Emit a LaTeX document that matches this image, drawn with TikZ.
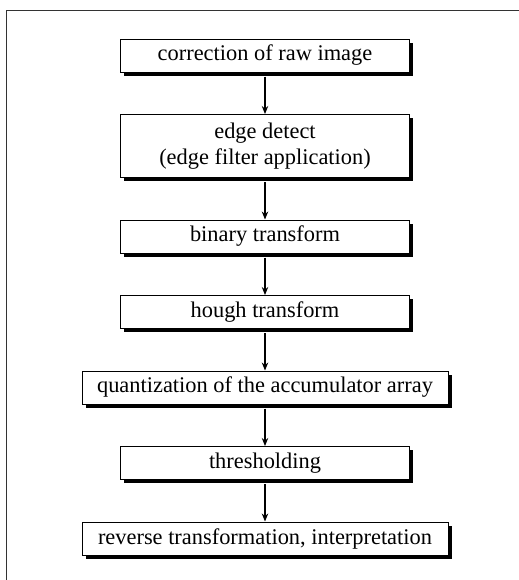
\documentclass[tikz,border=0pt]{standalone}
\usepackage{fontspec}
\setmainfont{Liberation Serif}
\usepackage{tikz}
\usetikzlibrary{arrows.meta,positioning,shadows}

\begin{document}
\begin{tikzpicture}[
  x=0.5pt, y=-0.5pt,
  node distance=20.75pt,
  stepbox/.style={draw, line width=0.5pt, fill=white, align=center, inner sep=2pt,
                  minimum width=144.5pt, minimum height=16.5pt, font=\fontsize{11.2}{13}\selectfont,
                  drop shadow={shadow xshift=1.75pt, shadow yshift=-1.75pt, fill=black, opacity=1}},
  widebox/.style={stepbox, minimum width=183pt},
  arrow/.style={-{Stealth[length=4pt,width=3.2pt]}, line width=0.6pt}
]
\useasboundingbox (0,0) rectangle (519,580);
% frame, open at right and bottom
\draw[black!80, line width=0.5pt] (519,10) -- (6,10) -- (6,580);

\node[stepbox] (correction) at (265,55.5) {correction of raw image};
\node[stepbox, minimum height=31.5pt, below=of correction] (edge) {edge detect\\(edge filter application)};
\node[stepbox, below=of edge] (binary) {binary transform};
\node[stepbox, below=of binary] (hough) {hough transform};
\node[widebox, below=of hough] (quant) {quantization of the accumulator array};
\node[stepbox, below=of quant] (threshold) {thresholding};
\node[widebox, below=of threshold] (reverse) {reverse transformation, interpretation};

\draw[arrow] ([yshift=-2pt]correction.south) -- (edge);
\draw[arrow] ([yshift=-2pt]edge.south) -- (binary);
\draw[arrow] ([yshift=-2pt]binary.south) -- (hough);
\draw[arrow] ([yshift=-2pt]hough.south) -- (quant);
\draw[arrow] ([yshift=-2pt]quant.south) -- (threshold);
\draw[arrow] ([yshift=-2pt]threshold.south) -- (reverse);
\end{tikzpicture}
\end{document}
